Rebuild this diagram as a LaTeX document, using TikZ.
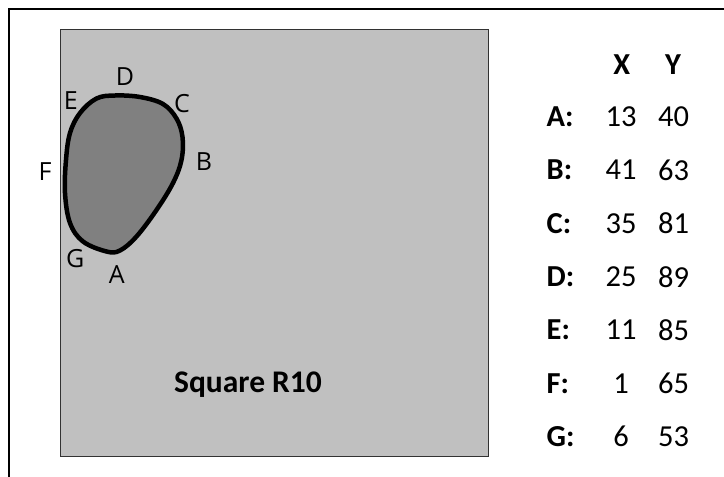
\documentclass[tikz,border=0pt]{standalone}
\usepackage{fontspec}
\setmainfont{Carlito}
\newfontfamily\lblfont{Open Sans}
\begin{document}
\begin{tikzpicture}[x=1pt,y=-1pt,
  lbl/.style={font=\lblfont\fontsize{25}{25}\selectfont,inner sep=0pt},
  tab/.style={font=\fontsize{30.5}{30.5}\selectfont,inner sep=0pt},
  tabb/.style={font=\bfseries\fontsize{30.5}{30.5}\selectfont,inner sep=0pt}]
\useasboundingbox (0,0) rectangle (724,477);
% outer frame (open at bottom and right)
\coordinate (fb) at (8.5,477);
\coordinate (ftl) at (8.5,9);
\coordinate (fr) at (724,9);
\draw[line width=2pt,black] (fb) -- (ftl) -- (fr);
% gray square
\draw[fill={rgb,255:red,192;green,192;blue,192},draw={rgb,255:red,50;green,50;blue,50},line width=1pt] (60,29) rectangle (488,456);
% blob
\draw[line width=4.5pt,fill={rgb,255:red,128;green,128;blue,128},line join=round]
  plot[smooth cycle,tension=0.6] coordinates {
   (115,95.5) (140,97) (163,104) (176.5,118.5) (182.5,137) (181.5,160)
   (173,183) (156.5,210) (136.5,236.5) (120,250.5) (106.5,251.5)
   (83,241.5) (70,223) (65,193) (66,160) (70,133) (80,113) (96.5,98.5)};
% labels
\node[lbl] (lE) at (70.8,100.8) {E};
\node[lbl] (lD) at (125,77) {D};
\node[lbl] (lC) at (182,103.3) {C};
\node[lbl] (lB) at (204,162) {B};
\node[lbl] (lF) at (45,172) {F};
\node[lbl] (lG) at (75.3,258.7) {G};
\node[lbl] (lA) at (116.7,275) {A};
\node[tabb,anchor=base,font=\bfseries\fontsize{31.5}{31.5}\selectfont] (title) at (248,392) {Square R10};
% table
\node[tabb] (hX) at (621.7,65) {X};
\node[tabb] (hY) at (673,65) {Y};
\foreach \n/\l/\a/\b/\y in {rA/A/13/40/116.7, rB/B/41/63/170, rC/C/35/81/223.3, rD/D/25/89/276.7, rE/E/11/85/330, rF/F/1/65/383.3, rG/G/6/53/436.7}{
  \node[tabb,anchor=west] (\n l) at (546.5,\y) {\l:};
  \node[tab] (\n x) at (621,\y) {\a};
  \node[tab] (\n y) at (673.5,\y) {\b};
}
\end{tikzpicture}
\end{document}
